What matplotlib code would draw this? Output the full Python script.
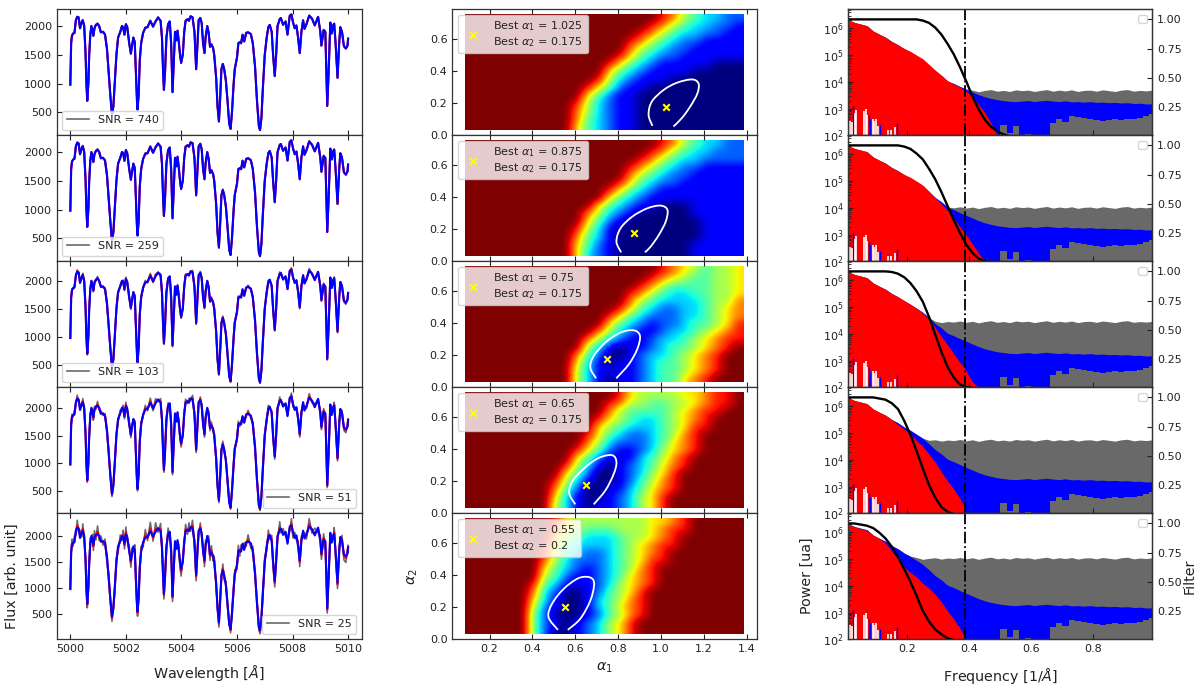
import numpy as np
import matplotlib
matplotlib.use("Agg")
import matplotlib.pyplot as plt
from matplotlib.path import Path
from matplotlib.patches import PathPatch

# --- spectra (left column) ---
snr_values = [740, 259, 103, 51, 25]
snr_loc = ["lower left", "lower left", "lower left", "lower right", "lower right"]
flux_ylim = [(99, 2296), (99, 2296), (102, 2352), (104, 2373), (15, 2440)]

wave = [5000.00, 5000.03, 5000.06, 5000.10, 5000.15, 5000.20, 5000.25, 5000.30, 5000.35, 5000.42,
        5000.45, 5000.50, 5000.55, 5000.58, 5000.61, 5000.65, 5000.68, 5000.72, 5000.76, 5000.80,
        5000.83, 5000.87, 5000.92, 5000.98, 5001.04, 5001.10, 5001.18, 5001.25, 5001.32, 5001.38,
        5001.44, 5001.50, 5001.55, 5001.60, 5001.66, 5001.72, 5001.80, 5001.86, 5001.90, 5001.95,
        5002.00, 5002.05, 5002.12, 5002.18, 5002.22, 5002.27, 5002.32, 5002.36, 5002.40, 5002.42,
        5002.46, 5002.50, 5002.55, 5002.62, 5002.70, 5002.78, 5002.88, 5002.98, 5003.07, 5003.16,
        5003.25, 5003.30, 5003.34, 5003.37, 5003.41, 5003.46, 5003.52, 5003.58, 5003.63, 5003.68,
        5003.72, 5003.77, 5003.82, 5003.86, 5003.90, 5003.95, 5003.99, 5004.05, 5004.10, 5004.15,
        5004.22, 5004.27, 5004.33, 5004.40, 5004.47, 5004.53, 5004.58, 5004.62, 5004.68, 5004.73,
        5004.78, 5004.83, 5004.87, 5004.93, 5004.98, 5005.03, 5005.08, 5005.14, 5005.18, 5005.25,
        5005.30, 5005.35, 5005.39, 5005.44, 5005.49, 5005.54, 5005.60, 5005.66, 5005.72, 5005.77,
        5005.82, 5005.88, 5005.92, 5006.00, 5006.05, 5006.10, 5006.15, 5006.20, 5006.26, 5006.33,
        5006.40, 5006.50, 5006.57, 5006.65, 5006.72, 5006.79, 5006.83, 5006.88, 5006.93, 5007.00,
        5007.07, 5007.13, 5007.18, 5007.25, 5007.30, 5007.36, 5007.41, 5007.46, 5007.54, 5007.58,
        5007.66, 5007.75, 5007.82, 5007.90, 5007.96, 5008.02, 5008.08, 5008.14, 5008.20, 5008.26,
        5008.32, 5008.38, 5008.43, 5008.50, 5008.60, 5008.70, 5008.80, 5008.92, 5009.00, 5009.04,
        5009.12, 5009.18, 5009.22, 5009.25, 5009.30, 5009.36, 5009.41, 5009.47, 5009.50, 5009.55,
        5009.62, 5009.68, 5009.72, 5009.78, 5009.85, 5009.92, 5009.98, 5010.00]
flux = [980, 1700, 1830, 1870, 1880, 2100, 2160, 2150, 1960, 2080,
        2100, 2000, 1500, 1000, 700, 1000, 1500, 1850, 2000, 1900,
        1830, 1960, 2020, 2040, 2000, 1890, 1900, 1850, 1600, 1200,
        800, 450, 600, 1000, 1500, 1800, 1900, 2000, 1980, 1850,
        2030, 1980, 1700, 1520, 1650, 1800, 1720, 1200, 700, 550,
        800, 1400, 1700, 1880, 1970, 1980, 2090, 1990, 2080, 2150,
        2090, 1800, 1200, 890, 1200, 1800, 2030, 2080, 1700, 850,
        1300, 1900, 1750, 1920, 1750, 1500, 1360, 1500, 1900, 2090,
        2120, 2090, 2170, 2150, 1900, 1250, 1700, 2100, 2140, 2050,
        1700, 1530, 1800, 2000, 1880, 1640, 1680, 1620, 1500, 1100,
        600, 340, 700, 1250, 1340, 1250, 1050, 700, 300, 210,
        500, 1000, 1250, 1450, 1700, 1720, 1700, 1850, 1730, 1880,
        1890, 1860, 1700, 1300, 700, 250, 190, 400, 900, 1500,
        1800, 1980, 2020, 1900, 1500, 1130, 1500, 2000, 2120, 2140,
        2020, 2080, 1850, 2180, 2200, 2060, 1960, 2010, 1800, 1530,
        1900, 2100, 1950, 2030, 2180, 2130, 2010, 2160, 1900, 1660,
        1930, 1900, 1200, 610, 1200, 2060, 1870, 2020, 2040, 1700,
        1100, 1700, 1980, 1900, 1650, 1610, 1660, 1780]
# scatter of the noisy curve around the clean one, read from the SNR = 25 panel
noise = [20, -70, 110, -70, 120, -90, 140, -80, 150, -100,
         130, -90, 100, -60, -80, 70, -90, 110, -90, 130,
         -110, 140, -100, 150, -90, 110, -80, 90, -110, 70,
         -60, -90, 60, -70, 90, -110, 120, -90, 130, -100,
         140, -90, 110, -120, 120, -100, 110, -110, -70, -90,
         80, -90, 100, -100, 150, -70, 170, -90, 170, -80,
         150, -90, 90, -100, 110, -90, 120, -100, 90, -110,
         90, -90, 110, -110, 100, -110, -130, 90, -100, 130,
         -90, 160, -80, 150, -100, -110, 100, -80, 110, -90,
         100, -120, 110, -90, 120, -110, 130, -100, 110, -90,
         70, -90, 80, -90, 120, -100, 90, -70, 70, -70,
         70, -90, 100, -90, 120, -110, 130, -90, 140, -80,
         130, -100, 100, -90, 80, -60, -70, 70, -80, 90,
         -80, 130, -90, 110, -90, -110, 100, -90, 150, -80,
         120, -90, 100, -90, 130, -100, 110, -90, 110, -120,
         100, -110, 120, -90, 150, -80, 140, -100, 120, -110,
         110, -100, 80, -90, 80, -100, 110, -90, 120, -100,
         -110, 90, -90, 110, -110, -120, 90, 40]

# --- alpha maps (middle column): one digit per cell, 0 = deep blue to 9 = dark red ---
map_740 = ["9" * 18 + "87543322",
           "9" * 17 + "875433221",
           "9" * 16 + "8754332211",
           "9" * 15 + "87543221111",
           "9" * 15 + "75432211111",
           "9" * 14 + "864322111111",
           "9" * 13 + "8643211111000",
           "9" * 13 + "6432111100000",
           "9" * 12 + "85321110000000",
           "9" * 11 + "864211000000000",
           "9" * 11 + "642110000000000",
           "9" * 10 + "8532110000000000",
           "9" * 10 + "7532110000000000",
           "9" * 10 + "7432110000000000",
           "9" * 10 + "6432110000000000"]
map_259 = ["9" * 18 + "87543322",
           "9" * 17 + "875433222",
           "9" * 16 + "8754332222",
           "9" * 15 + "87543221111",
           "9" * 15 + "75432211111",
           "9" * 14 + "864322111111",
           "9" * 13 + "8643211111111",
           "9" * 13 + "6432111111111",
           "9" * 12 + "64321100011111",
           "9" * 11 + "753210000011111",
           "9" * 11 + "642100000001111",
           "9" * 10 + "8531000000001111",
           "9" * 10 + "7431000000001111",
           "9" * 10 + "6421000000011111",
           "9" * 10 + "6321000000011111"]
map_103 = ["9" * 18 + "87654556",
           "9" * 17 + "876544556",
           "9" * 16 + "8754444556",
           "9" * 15 + "87543344556",
           "9" * 15 + "75433334557",
           "9" * 14 + "864322334567",
           "9" * 13 + "8643222334567",
           "9" * 13 + "6432122344568",
           "9" * 12 + "75321123345678",
           "9" * 11 + "753211233456788",
           "9" * 11 + "531011234456789",
           "9" * 10 + "7420012334567899",
           "9" * 10 + "6310112344567899",
           "9" * 10 + "5311112344567899",
           "9" * 10 + "5310112344678999"]
map_51 = ["9" * 14 + "865555667889",
          "9" * 13 + "8755445567889",
          "9" * 13 + "7544445678899",
          "9" * 12 + "86543345678999",
          "9" * 12 + "65433345688999",
          "9" * 11 + "864322345789999",
          "9" * 11 + "753222346789999",
          "9" * 10 + "8642112356789999",
          "9" * 10 + "6421113457899999",
          "9" * 9 + "85310123467899999",
          "9" * 9 + "64200123568999999",
          "9" * 8 + "853100124578999999",
          "9" * 8 + "742001134678999999",
          "9" * 8 + "631001235689999999",
          "9" * 8 + "531011235689999999"]
map_25 = ["9" * 8 + "8655555556678" + "9" * 5,
          "9" * 8 + "7654445556788" + "9" * 5,
          "9" * 8 + "6543334556789" + "9" * 5,
          "9" * 7 + "8643333456788" + "9" * 6,
          "9" * 7 + "8543223456789" + "9" * 6,
          "9" * 7 + "7532223456889" + "9" * 6,
          "9" * 7 + "643212345789" + "9" * 7,
          "9" * 7 + "542112346789" + "9" * 7,
          "9" * 6 + "8431112356789" + "9" * 7,
          "9" * 6 + "732001245689" + "9" * 8,
          "9" * 6 + "631001345789" + "9" * 8,
          "9" * 6 + "521001346789" + "9" * 8,
          "9" * 6 + "420001245789" + "9" * 8,
          "9" * 6 + "42101235689" + "9" * 9,
          "9" * 6 + "42001235689" + "9" * 9]
maps = [map_740, map_259, map_103, map_51, map_25]

best_a1 = [1.025, 0.875, 0.75, 0.65, 0.55]
best_a2 = [0.175, 0.175, 0.175, 0.175, 0.2]

contour_a1 = [[0.96, 0.942, 0.957, 1.012, 1.074, 1.144, 1.175, 1.17, 1.136, 1.097, 1.058],
              [0.814, 0.792, 0.811, 0.866, 0.936, 0.998, 1.03, 1.022, 0.99, 0.952, 0.925],
              [0.697, 0.67, 0.686, 0.74, 0.811, 0.873, 0.902, 0.889, 0.85, 0.791],
              [0.6, 0.572, 0.584, 0.639, 0.709, 0.772, 0.792, 0.78, 0.741, 0.686],
              [0.519, 0.475, 0.491, 0.545, 0.615, 0.67, 0.688, 0.67, 0.623, 0.565]]
contour_a2 = [[0.059, 0.128, 0.21, 0.283, 0.328, 0.349, 0.324, 0.262, 0.179, 0.107, 0.055],
              [0.056, 0.123, 0.206, 0.279, 0.331, 0.348, 0.321, 0.248, 0.165, 0.092, 0.056],
              [0.056, 0.123, 0.196, 0.279, 0.342, 0.356, 0.321, 0.238, 0.144, 0.056],
              [0.056, 0.123, 0.196, 0.279, 0.346, 0.363, 0.321, 0.248, 0.144, 0.056],
              [0.059, 0.138, 0.221, 0.314, 0.382, 0.386, 0.345, 0.241, 0.128, 0.059]]

# --- power spectra (right column), log10 of power ---
cutoff = 0.386
freq = [0.01, 0.03, 0.05, 0.07, 0.09, 0.11, 0.13, 0.15, 0.17, 0.19,
        0.21, 0.23, 0.25, 0.27, 0.29, 0.31, 0.33, 0.35, 0.37, 0.39,
        0.41, 0.43, 0.45, 0.47, 0.49, 0.51, 0.53, 0.55, 0.57, 0.59,
        0.61, 0.63, 0.65, 0.67, 0.69, 0.71, 0.73, 0.75, 0.77, 0.79,
        0.81, 0.83, 0.85, 0.87, 0.89, 0.91, 0.93, 0.95, 0.97, 0.99]
blue_top = [6.31, 6.21, 6.15, 6.09, 5.89, 5.77, 5.66, 5.50, 5.38, 5.22,
            5.10, 4.95, 4.80, 4.60, 4.38, 4.22, 4.02, 3.93, 3.82, 3.72,
            3.62, 3.52, 3.44, 3.38, 3.33, 3.30, 3.27, 3.26, 3.28, 3.30,
            3.26, 3.29, 3.31, 3.28, 3.26, 3.29, 3.25, 3.26, 3.24, 3.26,
            3.23, 3.24, 3.22, 3.23, 3.21, 3.22, 3.19, 3.20, 3.17, 3.18]
blue_low = [2.0, 2.0, 2.0, 2.0, 2.0, 2.0, 2.0, 2.0, 2.0, 2.0,
            2.0, 2.0, 2.0, 2.0, 2.0, 2.0, 2.0, 2.0, 2.0, 2.0,
            2.0, 2.0, 2.0, 2.0, 2.0, 2.4, 2.1, 2.35, 2.0, 2.05,
            2.0, 2.0, 2.0, 2.45, 2.6, 2.5, 2.72, 2.7, 2.66, 2.62,
            2.58, 2.55, 2.56, 2.6, 2.58, 2.62, 2.6, 2.66, 2.72, 2.78]
grey_level = [3.66, 4.0, 4.44, 4.72, 5.02]
grey_jitter = [0.02, -0.02, 0.03, 0.00, -0.03, 0.04, 0.01, -0.02, 0.03, -0.01,
               0.02, 0.04, -0.03, 0.01, 0.03, -0.02, 0.02, 0.00, 0.04, -0.01,
               0.03, -0.03, 0.02, 0.05, -0.01, 0.02, -0.02, 0.04, 0.01, 0.03,
               -0.02, 0.02, 0.05, -0.01, 0.03, 0.00, 0.04, -0.02, 0.02, 0.03,
               -0.01, 0.04, 0.01, -0.02, 0.03, 0.05, -0.01, 0.02, 0.00, 0.03]

red_freq = [0.01, 0.03, 0.05, 0.07, 0.09, 0.11, 0.13, 0.15, 0.17, 0.19, 0.21, 0.23, 0.25,
            0.27, 0.29, 0.31, 0.33, 0.35, 0.37, 0.386, 0.386, 0.41, 0.43, 0.45, 0.47, 0.49]
red_740 = [6.32, 6.22, 6.16, 6.10, 5.90, 5.78, 5.66, 5.50, 5.38, 5.25, 5.14, 5.00, 4.86,
           4.65, 4.44, 4.25, 4.04, 3.92, 3.80, 3.68, 3.68, 3.45, 3.15, 2.85, 2.45, 2.0]
red_259 = [6.32, 6.22, 6.16, 6.10, 5.90, 5.78, 5.66, 5.50, 5.38, 5.25, 5.14, 5.00, 4.85,
           4.62, 4.38, 4.15, 3.90, 3.6, 3.28, 3.05, 3.05, 2.65, 2.3, 2.0, 2.0, 2.0]
red_103 = [6.32, 6.22, 6.16, 6.10, 5.90, 5.78, 5.66, 5.50, 5.38, 5.25, 5.10, 4.95, 4.78,
           4.55, 4.24, 3.9, 3.58, 3.25, 2.93, 2.68, 2.68, 2.2, 2.0, 2.0, 2.0, 2.0]
red_51 = [6.32, 6.22, 6.16, 6.10, 5.90, 5.78, 5.66, 5.50, 5.32, 5.15, 4.95, 4.72, 4.5,
          4.22, 3.9, 3.55, 3.2, 2.9, 2.55, 2.2, 2.0, 2.0, 2.0, 2.0, 2.0, 2.0]
red_25 = [6.30, 6.20, 6.14, 6.06, 5.90, 5.77, 5.6, 5.3, 5.0, 4.7, 4.5, 4.33, 4.1,
          3.9, 3.68, 3.4, 3.05, 2.75, 2.4, 2.05, 2.0, 2.0, 2.0, 2.0, 2.0, 2.0]
red_tops = [red_740, red_259, red_103, red_51, red_25]

# low frequency gaps at the foot of the red area
white_gap_f = [0.016, 0.021, 0.031, 0.036, 0.060, 0.066, 0.071, 0.088, 0.094, 0.099, 0.104, 0.139, 0.146, 0.160]
white_gap_top = [2.55, 2.5, 2.85, 2.95, 2.9, 3.0, 2.75, 2.6, 2.55, 2.6, 2.35, 2.2, 2.2, 2.3]
blue_gap_f = [0.026, 0.076, 0.081, 0.112, 0.166]
blue_gap_top = [3.1, 2.75, 2.6, 2.4, 2.45]

filter_freq = [0.01, 0.03, 0.05, 0.07, 0.09, 0.11, 0.13, 0.15, 0.17, 0.19, 0.21, 0.23, 0.25, 0.27,
               0.29, 0.31, 0.33, 0.35, 0.37, 0.39, 0.41, 0.43, 0.45, 0.47, 0.49, 0.51, 0.53]
filter_740 = [1, 1, 1, 1, 1, 1, 1, 1, 1, 1, 1, 1, 0.99, 0.97,
              0.93, 0.87, 0.79, 0.70, 0.59, 0.47, 0.34, 0.23, 0.14, 0.08, 0.04, 0.015, 0]
filter_259 = [1, 1, 1, 1, 1, 1, 1, 1, 1, 0.99, 0.97, 0.93, 0.88, 0.80,
              0.71, 0.60, 0.48, 0.36, 0.25, 0.15, 0.08, 0.03, 0.01, 0, 0, 0, 0]
filter_103 = [1, 1, 1, 1, 1, 1, 1, 0.995, 0.98, 0.95, 0.90, 0.83, 0.74, 0.61,
              0.46, 0.31, 0.18, 0.09, 0.03, 0.01, 0, 0, 0, 0, 0, 0, 0]
filter_51 = [1, 1, 1, 1, 1, 0.99, 0.98, 0.95, 0.90, 0.80, 0.68, 0.54, 0.39, 0.25,
             0.14, 0.06, 0.02, 0, 0, 0, 0, 0, 0, 0, 0, 0, 0]
filter_25 = [1, 0.999, 0.99, 0.98, 0.96, 0.92, 0.87, 0.80, 0.71, 0.61, 0.50, 0.38, 0.25, 0.16,
             0.09, 0.05, 0.015, 0, 0, 0, 0, 0, 0, 0, 0, 0, 0]
filters = [filter_740, filter_259, filter_103, filter_51, filter_25]

W, H = 1200, 687
plt.rcParams["font.size"] = 8
plt.rcParams["axes.linewidth"] = 0.9
plt.rcParams["axes.edgecolor"] = "#333333"
plt.rcParams["text.color"] = "#222222"
plt.rcParams["xtick.color"] = "#222222"
plt.rcParams["ytick.color"] = "#222222"
plt.rcParams["xtick.direction"] = "in"
plt.rcParams["ytick.direction"] = "in"
plt.rcParams["axes.labelsize"] = 10.3
plt.rcParams["axes.labelcolor"] = "#222222"
grey = "#696969"

fig = plt.figure(figsize=(W / 100, H / 100), dpi=100)


def new_axes(left, right, top):
    # pixel box to figure fractions, every row is 126 px high
    return fig.add_axes([left / W, 1 - (top + 126.3) / H, (right - left) / W, 126.3 / H])


def smooth_contour(ax, xs, ys):
    # cubic segments that pass through every read point
    pts = np.column_stack((xs, ys))
    verts = [pts[0]]
    codes = [Path.MOVETO]
    for k in range(len(pts) - 1):
        before = pts[max(k - 1, 0)]
        after = pts[min(k + 2, len(pts) - 1)]
        verts += [pts[k] + (pts[k + 1] - before) / 6, pts[k + 1] - (after - pts[k]) / 6, pts[k + 1]]
        codes += [Path.CURVE4, Path.CURVE4, Path.CURVE4]
    ax.add_patch(PathPatch(Path(verts, codes), fill=False, edgecolor="white", lw=1.3))


wave_arr = np.array(wave)
flux_arr = np.array(flux, dtype=float)
noise_arr = np.array(noise, dtype=float)
tops = [9, 135, 261, 387, 513]

for i in range(5):
    # spectrum
    ax = new_axes(56.7, 361.7, tops[i])
    scale = 25 / snr_values[i]
    ax.plot(wave_arr, flux_arr + noise_arr * scale, color=grey, lw=1.2, label="SNR = %d" % snr_values[i])
    ax.plot(wave_arr, flux_arr + noise_arr * scale * 0.3, color="red", lw=1.5)
    ax.plot(wave_arr, flux_arr, color="blue", lw=1.5)
    ax.set_xlim(4999.51, 5010.49)
    ax.set_ylim(*flux_ylim[i])
    ax.set_yticks([500, 1000, 1500, 2000])
    ax.set_xticks([5000, 5002, 5004, 5006, 5008, 5010])
    ax.tick_params(top=True, labelbottom=i == 4)
    ax.legend(loc=snr_loc[i], fontsize=8)
    if i == 4:
        ax.set_xlabel(r"Wavelength [$\AA$]")
        ax.xaxis.set_label_coords(0.5, -0.19)
        ax.set_ylabel("Flux [arb. unit]")
        ax.yaxis.set_label_coords(-0.124, 0.5)

    # alpha map
    ax = new_axes(452.3, 757, tops[i])
    cells = np.array([[int(c) for c in row] for row in maps[i]], dtype=float)
    ax.imshow(cells, cmap="jet", vmin=0, vmax=9, aspect="auto", interpolation="bicubic",
              extent=[0.0875, 1.3875, 0.03, 0.75], origin="upper")
    smooth_contour(ax, contour_a1[i], contour_a2[i])
    label = "Best $\\alpha_1$ = %s\nBest $\\alpha_2$ = %s" % (best_a1[i], best_a2[i])
    ax.scatter([best_a1[i]], [best_a2[i]], marker="x", color="yellow", s=22, linewidths=1.5,
               label=label, zorder=5)
    ax.set_xlim(0.026, 1.448)
    ax.set_ylim(0, 0.789)
    ax.set_xticks([0.2, 0.4, 0.6, 0.8, 1.0, 1.2, 1.4])
    ax.set_yticks([0, 0.2, 0.4, 0.6])
    ax.tick_params(top=True, labelbottom=i == 4)
    ax.legend(loc="upper left", fontsize=8)
    if i == 4:
        ax.set_xlabel(r"$\alpha_1$")
        ax.xaxis.set_label_coords(0.5, -0.165)
        ax.set_ylabel(r"$\alpha_2$")
        ax.yaxis.set_label_coords(-0.105, 0.5)

    # power spectrum with filter on the twin axis
    ax = new_axes(848.3, 1152.3, tops[i])
    blue = np.array(blue_top)
    grey_top = np.maximum(blue + 0.01, grey_level[i] + np.array(grey_jitter))
    ax.fill_between(freq, 1e2, 10 ** grey_top, color=grey, lw=0)
    ax.fill_between(freq, 1e2, 10 ** blue, color="blue", lw=0)
    ax.fill_between(freq, 1e2, 10 ** np.array(blue_low), color=grey, lw=0, step="mid")
    ax.fill_between(red_freq, 1e2, 10 ** np.array(red_tops[i]), color="red", lw=0)
    ax.vlines(blue_gap_f, 1e2, 10 ** np.array(blue_gap_top), color="blue", lw=1.0)
    ax.vlines(white_gap_f, 1e2, 10 ** np.array(white_gap_top), color="white", lw=1.2)
    ax.axvline(cutoff, color="black", ls="-.", lw=1.3)
    ax.set_yscale("log")
    ax.set_xlim(0.0097, 0.99)
    ax.set_ylim(1e2, 5.3e6)
    ax.set_xticks([0.2, 0.4, 0.6, 0.8])
    ax.set_yticks([1e2, 1e3, 1e4, 1e5, 1e6])
    ax.tick_params(labelbottom=i == 4)
    if i == 4:
        ax.set_xlabel(r"Frequency [1/$\AA$]")
        ax.xaxis.set_label_coords(0.5, -0.21)
        ax.set_ylabel("Power [ua]")
        ax.yaxis.set_label_coords(-0.113, 0.5)

    ax2 = ax.twinx()
    ax2.plot(filter_freq, filters[i], color="black", lw=1.7)
    ax2.set_ylim(0.007, 1.089)
    ax2.set_yticks([0.25, 0.5, 0.75, 1.0])
    ax2.set_yticklabels(["0.25", "0.50", "0.75", "1.00"])
    ax2.legend(handles=[], loc="upper right", fontsize=8)
    if i == 4:
        ax2.set_ylabel("Filter")
        ax2.yaxis.set_label_coords(1.10, 0.5)

fig.savefig("out.png", dpi=100)
